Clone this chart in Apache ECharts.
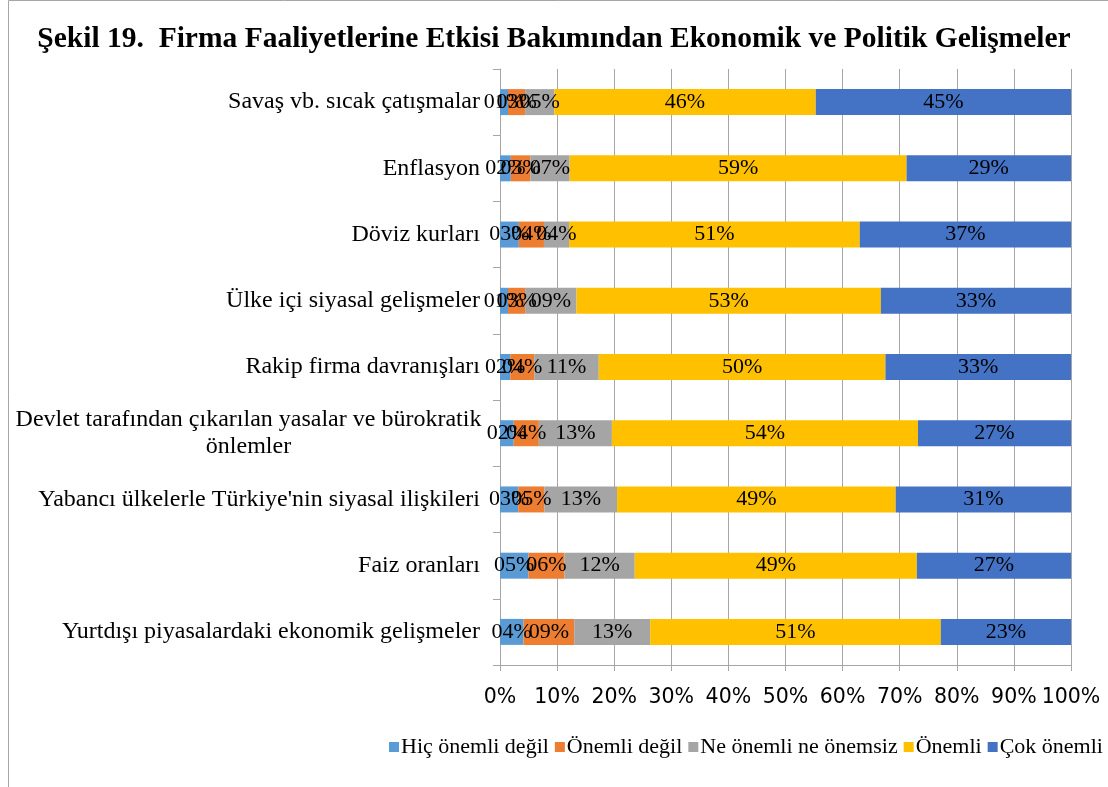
<!DOCTYPE html>
<html>
<head>
<meta charset="utf-8">
<script src="https://cdn.jsdelivr.net/npm/echarts@6/dist/echarts.min.js"></script>
<style>
  html, body { margin: 0; padding: 0; background: #fff; }
  #chart { width: 1108px; height: 787px; }
</style>
</head>
<body>
<div id="chart"></div>
<script>
const categories = [
    'Savaş vb. sıcak çatışmalar',
    'Enflasyon',
    'Döviz kurları',
    'Ülke içi siyasal gelişmeler',
    'Rakip firma davranışları',
    'Devlet tarafından çıkarılan yasalar ve bürokratik\nönlemler',
    "Yabancı ülkelerle Türkiye'nin siyasal ilişkileri",
    'Faiz oranları',
    'Yurtdışı piyasalardaki ekonomik gelişmeler'
]
// percentages (labels are rounded)
const hicOnemliDegil = [1.4, 1.9, 3.3, 1.4, 1.8, 2.4, 3.2, 5.0, 4.1]
const onemliDegil = [3.0, 3.4, 4.4, 3.0, 4.2, 4.4, 4.6, 6.3, 8.9]
const neOnemliNeOnemsiz = [5.1, 6.9, 4.4, 9.0, 11.3, 12.8, 12.7, 12.3, 13.3]
const onemli = [45.8, 59.0, 50.9, 53.3, 50.2, 53.6, 48.8, 49.4, 50.9]
const cokOnemli = [44.7, 28.8, 37.0, 33.3, 32.5, 26.8, 30.7, 27.0, 22.8]
const xTicks = [0, 10, 20, 30, 40, 50, 60, 70, 80, 90, 100]

const seriesNames = ['Hiç önemli değil', 'Önemli değil', 'Ne önemli ne önemsiz', 'Önemli', 'Çok önemli']
const seriesData = [hicOnemliDegil, onemliDegil, neOnemliNeOnemsiz, onemli, cokOnemli]
const colors = ['#5B9BD5', '#ED7D31', '#A5A5A5', '#FFC000', '#4472C4']

const serif = '"Liberation Serif", "Times New Roman", serif'

const chartInstance = echarts.init(document.getElementById('chart'))

const options = {
    animation: false,
    color: colors,
    title: {
        text: 'Şekil 19.  Firma Faaliyetlerine Etkisi Bakımından Ekonomik ve Politik Gelişmeler',
        left: 'center',
        top: 19,
        textStyle: {
            fontFamily: serif,
            fontWeight: 'bold',
            fontSize: 29.5,
            color: '#000'
        }
    },
    legend: {
        left: 384,
        top: 731,
        icon: 'rect',
        itemWidth: 10,
        itemHeight: 10,
        itemGap: 6,
        textStyle: {
            fontFamily: serif,
            fontSize: 22,
            color: '#000',
            padding: [0, 0, 0, -3]
        },
        data: seriesNames
    },
    grid: {
        left: 500,
        right: 37,
        top: 69,
        bottom: 122,
        containLabel: false
    },
    xAxis: {
        type: 'value',
        min: 0,
        max: 100,
        interval: 10,
        axisLine: { show: true, lineStyle: { color: '#A6A6A6' } },
        axisTick: { show: true, length: 6, lineStyle: { color: '#A6A6A6' } },
        splitLine: { show: true, lineStyle: { color: '#A6A6A6' } },
        axisLabel: {
            margin: 22,
            fontFamily: '"DejaVu Sans", sans-serif',
            fontSize: 20.5,
            color: '#000',
            formatter: v => xTicks.includes(v) ? v + '%' : ''
        }
    },
    yAxis: {
        type: 'category',
        inverse: true,
        data: categories,
        axisLine: { show: true, lineStyle: { color: '#A6A6A6' } },
        axisTick: { show: true, length: 7, lineStyle: { color: '#A6A6A6' } },
        axisLabel: {
            margin: 20,
            fontFamily: serif,
            fontSize: 24,
            color: '#000',
            align: 'right',
            formatter: v => v.indexOf('\n') >= 0 ? '{c|' + v + '}' : v,
            rich: {
                c: {
                    width: 463,
                    align: 'center',
                    fontFamily: serif,
                    fontSize: 24,
                    lineHeight: 27,
                    color: '#000'
                }
            }
        }
    },
    series: seriesNames.map((name, i) => ({
        name: name,
        type: 'bar',
        stack: 'total',
        barWidth: 26,
        data: seriesData[i],
        label: {
            show: true,
            position: 'inside',
            fontFamily: serif,
            fontSize: 22,
            color: '#000',
            formatter: p => String(Math.round(p.value)).padStart(2, '0') + '%'
        }
    })),
    graphic: [{
        type: 'rect',
        shape: { x: 8.5, y: 0.5, width: 1200, height: 1000 },
        style: { fill: 'none', stroke: '#A6A6A6', lineWidth: 1 },
        silent: true
    }]
}

chartInstance.setOption(options)
</script>
</body>
</html>
